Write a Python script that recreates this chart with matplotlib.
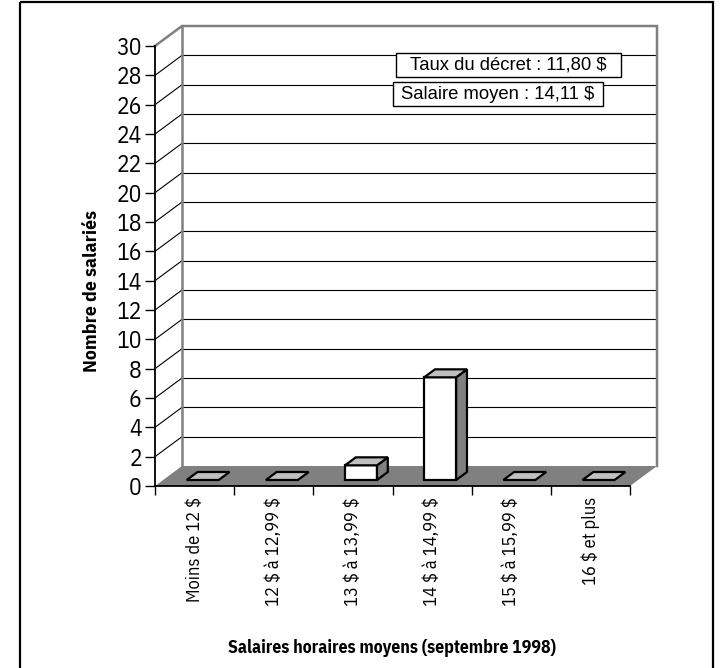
import matplotlib

matplotlib.use("Agg")
import matplotlib.pyplot as plt
from matplotlib.patches import Polygon, Rectangle

plt.rcParams["text.parse_math"] = False

categories = ["Moins de 12 $", "12 $ à 12,99 $", "13 $ à 13,99 $",
              "14 $ à 14,99 $", "15 $ à 15,99 $", "16 $ et plus"]
counts = [0, 0, 1, 7, 0, 0]
yticks = list(range(0, 31, 2))
notes = ["Taux du décret : 11,80 $", "Salaire moyen : 14,11 $"]

NARROW = ["IBM Plex Sans Condensed", "DejaVu Sans"]
REG = ["Liberation Sans", "DejaVu Sans"]

W, H = 722, 668
fig = plt.figure(figsize=(W / 100, H / 100), dpi=100)

# front axes: x in category units, y in counts
ax = fig.add_axes([155 / W, (H - 486) / H, 475 / W, 440 / H])
ax.set_xlim(0, len(categories))
ax.set_ylim(0, 30)

# depth of the fake 3d box, in data units
dx, dy = 27 / (475 / 6), 20 / (440 / 30)
n = len(categories)

# floor
ax.add_patch(Polygon([(0, 0), (n, 0), (n + dx, dy), (dx, dy)], closed=True,
                     facecolor="#808080", edgecolor="none", zorder=2, clip_on=False))
# back wall grid + side wall diagonals
for v in yticks[1:-1]:
    ax.plot([dx, n + dx], [v + dy, v + dy], color="black", lw=0.8, zorder=1, clip_on=False)
    ax.plot([0, dx], [v, v + dy], color="black", lw=0.8, zorder=1, clip_on=False)
# wall edges
gray = "#808080"
ax.plot([0, dx, n + dx, n + dx], [30, 30 + dy, 30 + dy, dy], color=gray, lw=1.8,
        zorder=1, clip_on=False, solid_joinstyle="miter")
ax.plot([dx, dx], [dy, 30 + dy], color=gray, lw=1.8, zorder=1, clip_on=False)

# bars
f0, f1 = 0.3, 0.7
bw = 0.404
for i, v in enumerate(counts):
    x0 = i + 0.5 - bw / 2 + f0 * dx
    x1 = x0 + bw
    yb = f0 * dy
    yt = v + yb
    ddx, ddy = (f1 - f0) * dx, (f1 - f0) * dy
    kw = dict(closed=True, edgecolor="black", lw=1.6, zorder=3, clip_on=False,
              joinstyle="miter")
    if v > 0:
        ax.add_patch(Polygon([(x0, yb), (x1, yb), (x1, yt), (x0, yt)], facecolor="white", **kw))
        ax.add_patch(Polygon([(x1, yb), (x1 + ddx, yb + ddy), (x1 + ddx, yt + ddy), (x1, yt)],
                             facecolor="#808080", **kw))
    ax.add_patch(Polygon([(x0, yt), (x1, yt), (x1 + ddx, yt + ddy), (x0 + ddx, yt + ddy)],
                         facecolor="#c0c0c0", **kw))

# axes, ticks
for s in ("top", "right"):
    ax.spines[s].set_visible(False)
for s in ("left", "bottom"):
    ax.spines[s].set_color("black")
    ax.spines[s].set_linewidth(1.3)
    ax.spines[s].set_zorder(4)
ax.set_facecolor("none")
ax.set_yticks(yticks)
ax.set_yticklabels([str(t) for t in yticks], family=NARROW, fontsize=17)
ax.tick_params(axis="y", direction="out", length=7.5, width=1.0, pad=2)
ax.set_xticks(range(n + 1))
ax.set_xticklabels([])
ax.tick_params(axis="x", which="major", direction="out", length=6.5, width=1.0)
ax.set_xticks([i + 0.5 for i in range(n)], minor=True)
ax.set_xticklabels(categories, minor=True, rotation=90, family=NARROW, fontsize=13.3)
ax.tick_params(axis="x", which="minor", length=0, pad=8)

# overlay in pixel coords for frame, text boxes and titles
ov = fig.add_axes([0, 0, 1, 1], zorder=5)
ov.set_xlim(0, W)
ov.set_ylim(H, 0)
ov.axis("off")
ov.patch.set_alpha(0)
ov.add_patch(Rectangle((20, 1.5), 693, 680, fill=False, edgecolor="black", lw=1.6))
boxes = [(396, 53, 225, 24), (393, 82, 210, 24)]
for (bx, by, bwid, bh), txt in zip(boxes, notes):
    ov.add_patch(Rectangle((bx, by), bwid, bh, facecolor="white", edgecolor="black", lw=1.0))
    ov.text(bx + bwid / 2, by + bh / 2 + 0.5, txt, ha="center", va="center",
            family=REG, fontsize=13.3)

ov.text(92, 291, "Nombre de salariés", rotation=90, ha="center", va="center",
        family=NARROW, fontsize=14, fontweight="bold")
ov.text(392, 648, "Salaires horaires moyens (septembre 1998)", ha="center", va="center",
        family=NARROW, fontsize=12.8, fontweight="bold")

fig.savefig("out.png", dpi=100)
plt.close(fig)
